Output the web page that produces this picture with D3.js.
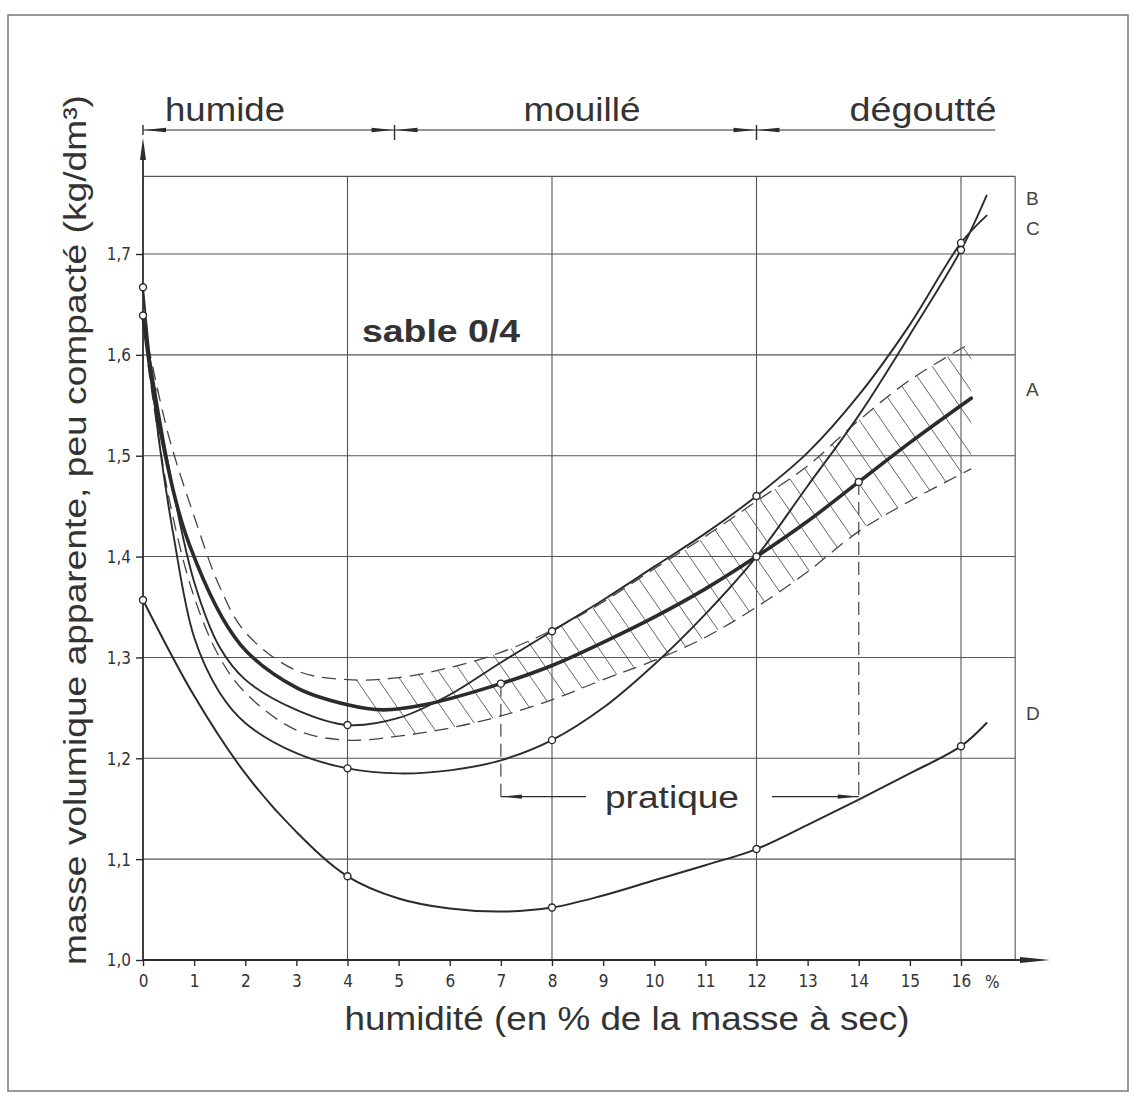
<!DOCTYPE html>
<html><head><meta charset="utf-8">
<script src="https://cdn.jsdelivr.net/npm/d3@7"></script>
<style>body{margin:0;background:#fff}</style>
</head><body>
<script>
// ---------- data ----------
const xTicks = d3.range(0, 17);
const yTicks = [1.0, 1.1, 1.2, 1.3, 1.4, 1.5, 1.6, 1.7];
const gridX = [4, 8, 12, 16];
const zoneLabels = ["humide", "mouillé", "dégoutté"];
const zoneBounds = [0, 4.92, 12, 16.67];

const curveA = [[0,1.639],[0.33,1.527],[0.92,1.41],[1.9,1.313],[3,1.27],[4,1.253],[4.7,1.248],[5.5,1.253],[7,1.274],[8,1.292],[9,1.315],[10,1.34],[11,1.368],[12,1.40],[13,1.435],[14,1.474],[15,1.513],[16.2,1.557]];
const curveB = [[0,1.667],[0.3,1.52],[0.6,1.42],[1,1.32],[1.5,1.265],[2,1.235],[3,1.205],[4,1.19],[5,1.185],[6,1.188],[7,1.198],[8,1.218],[9,1.25],[10,1.293],[11,1.343],[12,1.40],[13,1.47],[14,1.54],[15,1.62],[16,1.704],[16.5,1.758]];
const curveC = [[0,1.639],[0.5,1.49],[1,1.375],[1.5,1.31],[2,1.278],[3,1.248],[4,1.233],[5,1.24],[6,1.263],[7,1.295],[8,1.326],[9,1.357],[10,1.39],[11,1.423],[12,1.46],[13,1.503],[14,1.56],[15,1.63],[16,1.711],[16.5,1.738]];
const curveD = [[0,1.357],[1,1.262],[2,1.185],[3,1.127],[4,1.083],[5,1.061],[6,1.051],[7,1.048],[8,1.052],[9,1.064],[10,1.079],[11,1.094],[12,1.11],[13,1.134],[14,1.159],[15,1.185],[16,1.212],[16.5,1.235]];
const curveNames = ["A", "B", "C", "D"];
const curveLabelValues = [1.566, 1.755, 1.725, 1.245];

const bandX     = [0.1, 0.5, 1, 1.5, 2, 3, 4, 5, 6, 7, 8, 9, 10, 11, 12, 13, 14, 15, 16.2];
const bandUpper = [1.61,1.52,1.44,1.37,1.325,1.287,1.278,1.28,1.29,1.305,1.327,1.355,1.388,1.42,1.455,1.49,1.535,1.575,1.612];
const bandLower = [1.59,1.46,1.36,1.30,1.265,1.228,1.218,1.222,1.23,1.242,1.258,1.278,1.297,1.32,1.35,1.385,1.425,1.455,1.487];

const measuredPoints = [[0,1.667],[0,1.639],[0,1.357],[4,1.233],[4,1.19],[4,1.083],[7,1.274],[8,1.326],[8,1.218],[8,1.052],[12,1.46],[12,1.40],[12,1.11],[14,1.474],[16,1.711],[16,1.704],[16,1.212]];
const pratiqueRange = [7, 14];
const pratiqueLevel = 1.162;

// ---------- layout ----------
const W = 1134, H = 1097;
const x = d3.scaleLinear().domain([0, 16]).range([143, 961]);
const y = d3.scaleLinear().domain([1.0, 1.7]).range([960, 254]);
const frameTop = 1.777, frameRight = 17.06;
const ink = "#2b2b2b", gridC = "#555";
const tickFont = "'Liberation Sans Narrow','DejaVu Sans Condensed',sans-serif";
const mainFont = "'Liberation Sans',Arial,sans-serif";

const svg = d3.select("body").append("svg").attr("width", W).attr("height", H);
svg.append("rect").attr("width", W).attr("height", H).attr("fill", "#fff");
svg.append("rect").attr("x", 8).attr("y", 15).attr("width", 1120).attr("height", 1076)
  .attr("fill", "none").attr("stroke", "#777").attr("stroke-width", 1.5);

function tri(tipX, tipY, angle, len, half) {
  const a = angle * Math.PI / 180;
  const bx = tipX - len * Math.cos(a), by = tipY - len * Math.sin(a);
  const px = -Math.sin(a) * half, py = Math.cos(a) * half;
  svg.append("path").attr("d", `M${tipX},${tipY}L${bx+px},${by+py}L${bx-px},${by-py}Z`).attr("fill", ink);
}

// grid
const g = svg.append("g").attr("stroke", gridC).attr("stroke-width", 1.1);
yTicks.slice(1).concat([frameTop]).forEach(v =>
  g.append("line").attr("x1", x(0)).attr("x2", x(frameRight)).attr("y1", y(v)).attr("y2", y(v)));
gridX.concat([frameRight]).forEach(v =>
  g.append("line").attr("x1", x(v)).attr("x2", x(v)).attr("y1", y(frameTop)).attr("y2", y(1.0)));

// axes
const yAxis = d3.axisLeft(y).tickValues(yTicks).tickSize(7).tickFormat(d => d3.format(".1f")(d).replace(".", ","));
const ya = svg.append("g").attr("transform", `translate(${x(0)},0)`).call(yAxis);
ya.select(".domain").remove();
ya.selectAll("line").attr("stroke", ink).attr("stroke-width", 1.4);
ya.selectAll("text").attr("font-family", tickFont).attr("font-size", 17).attr("fill", "#333").attr("x", -12).attr("dy", "0.35em");

const xAxis = d3.axisBottom(x).tickValues(xTicks).tickSize(6).tickFormat(d3.format("d"));
const xa = svg.append("g").attr("transform", `translate(0,${y(1.0)})`).call(xAxis);
xa.select(".domain").remove();
xa.selectAll("line").attr("stroke", ink).attr("stroke-width", 1.4);
xa.selectAll("text").attr("font-family", tickFont).attr("font-size", 17).attr("fill", "#333").attr("y", 15).attr("dy", "0.71em");
svg.append("text").attr("x", x(16) + 24).attr("y", 988).attr("font-family", tickFont).attr("font-size", 17).attr("fill", "#333").text("%");

svg.append("line").attr("x1", x(0)).attr("x2", x(0)).attr("y1", y(1.0)).attr("y2", 150).attr("stroke", ink).attr("stroke-width", 1.8);
tri(x(0), 138, -90, 22, 3);
svg.append("line").attr("x1", x(0)).attr("x2", 1040).attr("y1", y(1.0)).attr("y2", y(1.0)).attr("stroke", ink).attr("stroke-width", 1.8);
tri(1050, y(1.0), 0, 30, 3);

// hatched band
const smooth = d3.curveCatmullRom.alpha(0.5);
const bandPts = bandX.map((v, i) => [v, bandUpper[i], bandLower[i]]);
const area = d3.area().x(d => x(d[0])).y0(d => y(d[2])).y1(d => y(d[1])).curve(smooth);
svg.append("clipPath").attr("id", "bandClip").append("path").attr("d", area(bandPts));
const hatch = svg.append("g").attr("clip-path", "url(#bandClip)").attr("stroke", "#666").attr("stroke-width", 1);
const slope = 1.45;
for (let px = 60; px < 1100; px += 22) {
  hatch.append("line").attr("x1", px).attr("y1", 250).attr("x2", px + 750 / slope).attr("y2", 1000);
}
const line = d3.line().x(d => x(d[0])).y(d => y(d[1])).curve(smooth);
[bandUpper, bandLower].forEach(arr => {
  svg.append("path").attr("d", line(bandX.map((v, i) => [v, arr[i]])))
    .attr("fill", "none").attr("stroke", "#444").attr("stroke-width", 1.3).attr("stroke-dasharray", "14,8");
});

// curves
const curves = [curveA, curveB, curveC, curveD];
const widths = [3.6, 1.9, 1.9, 2];
curves.forEach((c, i) => {
  svg.append("path").attr("d", line(c)).attr("fill", "none").attr("stroke", ink)
    .attr("stroke-width", widths[i]).attr("stroke-linecap", "round");
});

// pratique annotations
pratiqueRange.forEach(v => {
  const top = curveA.find(d => d[0] === v)[1];
  svg.append("line").attr("x1", x(v)).attr("x2", x(v)).attr("y1", y(top)).attr("y2", y(pratiqueLevel) + 6)
    .attr("stroke", "#444").attr("stroke-width", 1.2).attr("stroke-dasharray", "13,7");
});
const py = y(pratiqueLevel);
svg.append("text").attr("x", 672).attr("y", py + 11).attr("text-anchor", "middle")
  .attr("font-family", mainFont).attr("font-size", 31).attr("fill", "#333")
  .attr("textLength", 134).attr("lengthAdjust", "spacingAndGlyphs").text("pratique");
svg.append("line").attr("x1", x(pratiqueRange[0])).attr("x2", 586).attr("y1", py).attr("y2", py).attr("stroke", ink).attr("stroke-width", 1.2);
svg.append("line").attr("x1", 772).attr("x2", x(pratiqueRange[1])).attr("y1", py).attr("y2", py).attr("stroke", ink).attr("stroke-width", 1.2);
tri(x(pratiqueRange[0]) + 1, py, 180, 20, 2.2);
tri(x(pratiqueRange[1]) - 1, py, 0, 20, 2.2);

// points
svg.append("g").selectAll("circle").data(measuredPoints).join("circle")
  .attr("cx", d => x(d[0])).attr("cy", d => y(d[1])).attr("r", 3.5)
  .attr("fill", "#fff").attr("stroke", ink).attr("stroke-width", 1.4);

// curve labels
curveNames.forEach((n, i) => {
  svg.append("text").attr("x", 1026).attr("y", y(curveLabelValues[i])).attr("dy", "0.35em")
    .attr("font-family", mainFont).attr("font-size", 19).attr("fill", "#444").text(n);
});

// zones at top
const zy = 130;
svg.append("line").attr("x1", x(zoneBounds[0])).attr("x2", x(zoneBounds[3])).attr("y1", zy).attr("y2", zy).attr("stroke", ink).attr("stroke-width", 1.2);
svg.append("line").attr("x1", x(0)).attr("x2", x(0)).attr("y1", zy - 5).attr("y2", zy + 5).attr("stroke", ink).attr("stroke-width", 1.4);
tri(x(0) + 1, zy, 180, 22, 2.2);
[zoneBounds[1], zoneBounds[2]].forEach(b => {
  svg.append("line").attr("x1", x(b)).attr("x2", x(b)).attr("y1", zy - 5).attr("y2", zy + 10).attr("stroke", ink).attr("stroke-width", 1.4);
  tri(x(b) - 1, zy, 0, 22, 2.2);
  tri(x(b) + 1, zy, 180, 22, 2.2);
});
const zoneCenters = [225, 582, 923];
const zoneWidths = [120, 117, 147];
zoneLabels.forEach((t, i) => {
  svg.append("text").attr("x", zoneCenters[i]).attr("y", 121).attr("text-anchor", "middle")
    .attr("font-family", mainFont).attr("font-size", 33).attr("fill", "#333")
    .attr("textLength", zoneWidths[i]).attr("lengthAdjust", "spacingAndGlyphs").text(t);
});

// titles
svg.append("text").attr("x", 441).attr("y", 342).attr("text-anchor", "middle")
  .attr("font-family", mainFont).attr("font-weight", "bold").attr("font-size", 31).attr("fill", "#333")
  .attr("textLength", 158).attr("lengthAdjust", "spacingAndGlyphs").text("sable 0/4");
svg.append("text").attr("x", 627).attr("y", 1030).attr("text-anchor", "middle")
  .attr("font-family", mainFont).attr("font-size", 34).attr("fill", "#333")
  .attr("textLength", 565).attr("lengthAdjust", "spacingAndGlyphs").text("humidité (en % de la masse à sec)");
svg.append("text").attr("transform", "translate(86,530) rotate(-90)").attr("text-anchor", "middle")
  .attr("font-family", mainFont).attr("font-size", 32).attr("fill", "#333")
  .attr("textLength", 870).attr("lengthAdjust", "spacingAndGlyphs").text("masse volumique apparente, peu compacté (kg/dm³)");
</script>
</body></html>
